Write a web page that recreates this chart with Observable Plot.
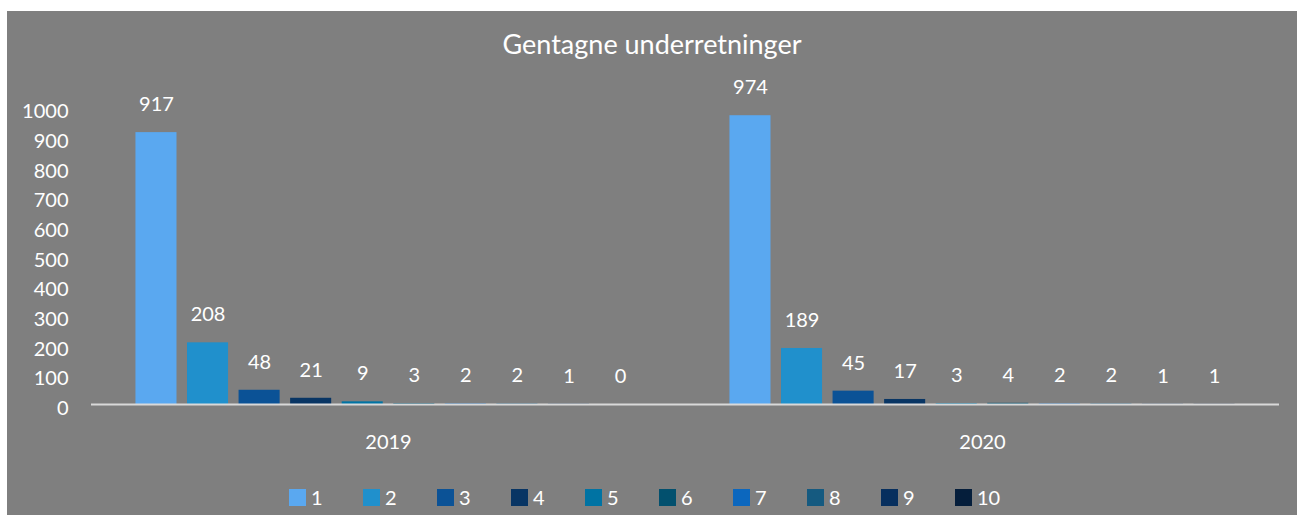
<!DOCTYPE html>
<html>
<head>
<meta charset="utf-8">
<script src="https://cdn.jsdelivr.net/npm/d3@7"></script>
<script src="https://cdn.jsdelivr.net/npm/@observablehq/plot@0.6"></script>
<style>
  html, body { margin: 0; padding: 0; background: #ffffff; }
  #panel {
    position: absolute; left: 7px; top: 11px; width: 1290px; height: 504px;
    background: #7f7f7f; font-family: Lato, "Open Sans", sans-serif; color: #ffffff;
    overflow: hidden;
  }
  #title { height: 66px; line-height: 66px; text-align: center; font-size: 27px; }
  #chart svg { display: block; overflow: visible; }
  #legend { position: absolute; left: 282px; top: 477px; display: flex; }
  .item { width: 74px; display: flex; align-items: center; font-size: 20px; height: 18px; }
  .sw { width: 17px; height: 17px; margin-right: 5px; }
</style>
</head>
<body>
<div id="panel">
  <div id="title">Gentagne underretninger</div>
  <div id="chart"></div>
  <div id="legend"></div>
</div>
<script>
const categories = ["2019", "2020"];
const series = ["1", "2", "3", "4", "5", "6", "7", "8", "9", "10"];
const values2019 = [917, 208, 48, 21, 9, 3, 2, 2, 1, 0];
const values2020 = [974, 189, 45, 17, 3, 4, 2, 2, 1, 1];
const colors = ["#5aa8f0", "#2090cc", "#0b5296", "#083564", "#0073a3", "#02506e", "#0c67be", "#155a80", "#072f5e", "#051e3b"];
const yTicks = [0, 100, 200, 300, 400, 500, 600, 700, 800, 900, 1000];

const valuesByYear = [values2019, values2020];
const data = categories.flatMap((c, i) =>
  series.map((s, j) => ({year: c, series: s, value: valuesByYear[i][j]}))
);

const chart = Plot.plot({
  width: 1290,
  height: 385,
  marginLeft: 84,
  marginRight: 18,
  marginTop: 30.5,
  marginBottom: 58,
  style: {background: "transparent", color: "#ffffff", fontFamily: "Lato, 'Open Sans', sans-serif", fontSize: "20px", overflow: "visible"},
  fx: {domain: categories, padding: 0, round: false, label: null},
  x: {domain: series, paddingInner: 0.204, paddingOuter: 0.862, round: false, axis: null},
  y: {domain: [0, 1000], label: null},
  color: {domain: series, range: colors},
  marks: [
    Plot.axisY({ticks: yTicks, tickFormat: d => String(d), tickSize: 0, tickPadding: 23, dy: 4, label: null, fontSize: 20, fill: "#ffffff"}),
    Plot.axisFx({anchor: "bottom", tickSize: 0, tickPadding: 30, label: null, fontSize: 20, fill: "#ffffff"}),
    Plot.barY(data, {fx: "year", x: "series", y: "value", fill: "series"}),
    Plot.ruleY([0], {stroke: "#d9d9d9", strokeWidth: 2}),
    Plot.text(data, {fx: "year", x: "series", y: "value", text: d => String(d.value), dy: -28, fill: "#ffffff", fontSize: 20})
  ]
});
document.getElementById("chart").appendChild(chart);

const legend = document.getElementById("legend");
series.forEach((s, i) => {
  const item = document.createElement("div");
  item.className = "item";
  const sw = document.createElement("div");
  sw.className = "sw";
  sw.style.background = colors[i];
  const lab = document.createElement("span");
  lab.textContent = s;
  item.appendChild(sw);
  item.appendChild(lab);
  legend.appendChild(item);
});
</script>
</body>
</html>
